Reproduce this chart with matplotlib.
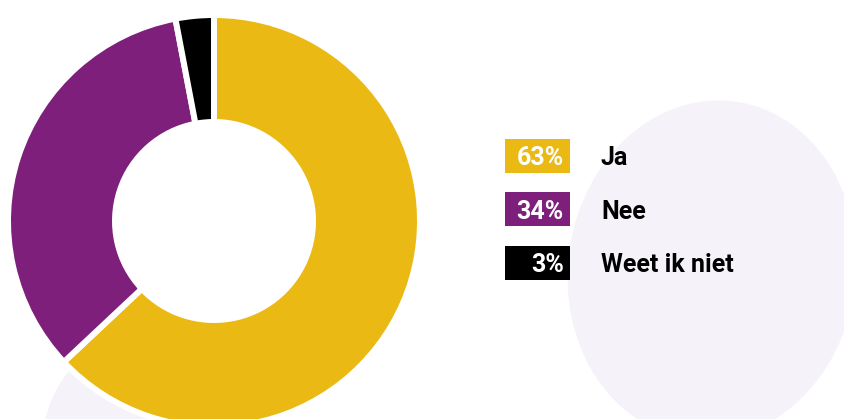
import matplotlib.pyplot as plt
from matplotlib.patches import Ellipse, Circle, Rectangle

# data
labels = ["Ja", "Nee", "Weet ik niet"]
values = [63, 34, 3]
colors = ["#EBB914", "#7E1F7B", "#000000"]

W, H = 845, 419
bg_blob = "#F5F3F9"

fig = plt.figure(figsize=(W / 100, H / 100), dpi=100)
ax = fig.add_axes([0, 0, 1, 1])

# background blobs (pixel coords, y measured from bottom)
ax.add_patch(Ellipse((712, H - 270), 288, 340, angle=-8, facecolor=bg_blob, edgecolor="none", zorder=0))
ax.add_patch(Circle((163, H - 447), 121, facecolor=bg_blob, edgecolor="none", zorder=0))

cx, cy = 214, H - 221
ax.pie(values, colors=colors, startangle=90, counterclock=False,
       center=(cx, cy), radius=206, frame=True,
       wedgeprops=dict(width=107, edgecolor="white", linewidth=4.3))

# legend boxes
box_x, box_w, box_h = 505, 65, 34
row_y = [156, 209.5, 263]
font = ["Roboto", "DejaVu Sans"]
for lab, val, col, y in zip(labels, values, colors, row_y):
    ax.add_patch(Rectangle((box_x, H - y - box_h / 2), box_w, box_h,
                           facecolor=col, edgecolor="none", zorder=3))
    ax.text(box_x + box_w - 6, H - y - 2, f"{val}%", color="white", fontsize=18,
            fontweight="bold", ha="right", va="center", family=font, zorder=4)
    ax.text(601, H - y - 2, lab, color="black", fontsize=18, fontweight="bold",
            ha="left", va="center", family=font, zorder=4)

ax.set_xlim(0, W)
ax.set_ylim(0, H)
ax.set_aspect("equal")
ax.axis("off")

fig.savefig("out.png", dpi=100)
